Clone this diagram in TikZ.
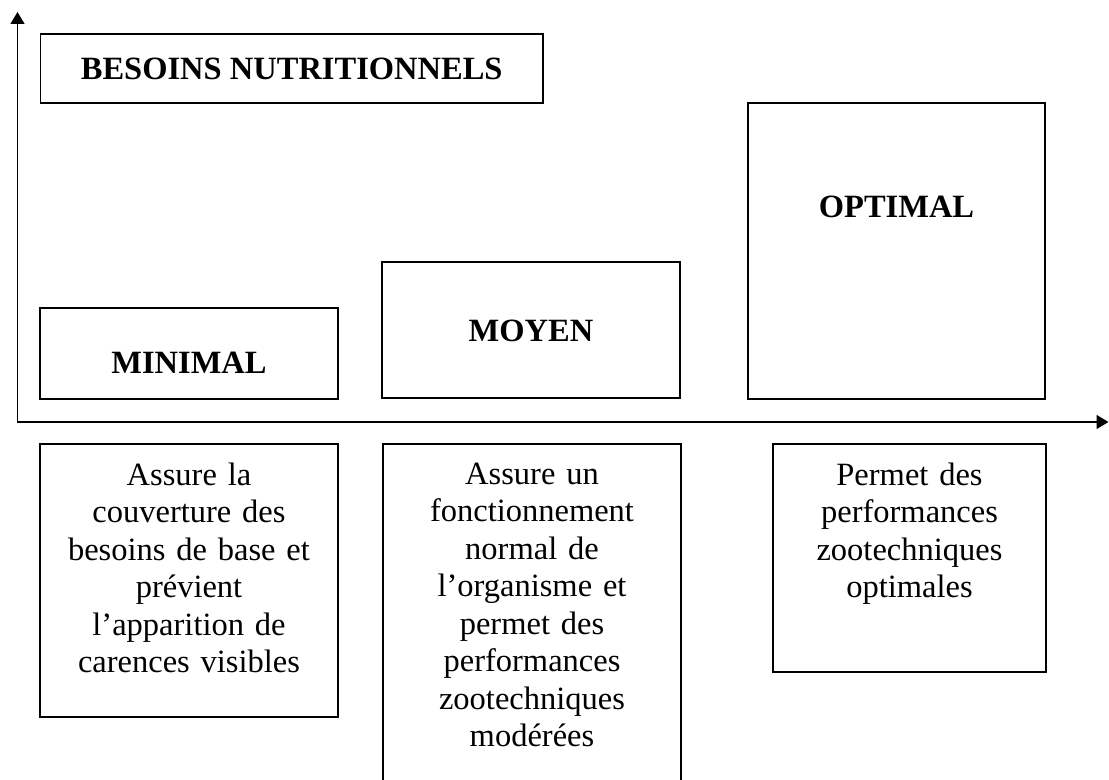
\documentclass[tikz,border=0pt]{standalone}
\usepackage{fontspec}
\setmainfont{Liberation Serif}
\usetikzlibrary{arrows.meta,positioning}

\begin{document}
\begin{tikzpicture}[
  x=0.5pt, y=-0.5pt,
  axis/.style={line width=0.75pt, {Triangle[length=6pt,width=7pt]}-{Triangle[length=6pt,width=7pt]}},
  frame/.style={draw, line width=0.7pt, inner sep=0pt, minimum width=149pt},
  level/.style={font=\fontsize{16.25}{18.75}\selectfont\bfseries, inner sep=0pt},
  note/.style={font=\fontsize{16.25}{18.75}\selectfont, text width=132pt, align=center, inner sep=0pt}
]
  \useasboundingbox (0,0) rectangle (1109,780);

  % axes
  \coordinate (origin) at (17.5,422);
  \coordinate (ytip) at (17.5,12);
  \coordinate (xtip) at (1108.5,422);
  \draw[axis] (ytip) -- (origin) -- (xtip);

  \node[frame, level, minimum width=251.25pt, minimum height=34.5pt] (title) at (291.75,68.5) {BESOINS NUTRITIONNELS};

  % upper boxes
  \node[frame, minimum height=45.5pt] (minimal) at (189,353.5) {};
  \node[frame, minimum height=68pt] (moyen) at (531,330) {};
  \node[frame, minimum width=148.5pt, minimum height=148pt] (optimal) at (896.5,251) {};

  \node[level, below=22pt of minimal.north] (minimal-txt) {MINIMAL};
  \node[level, below=29pt of moyen.north] (moyen-txt) {MOYEN};
  \node[level, below=46.75pt of optimal.north] (optimal-txt) {OPTIMAL};

  % lower boxes
  \node[frame, minimum height=136.5pt] (descA) at (189,580.5) {};
  \node[frame, minimum height=168.5pt] (descB) at (532,612.5) {};
  \node[frame, minimum width=136.5pt, minimum height=114pt] (descC) at (909.5,558) {};

  \node[note, below=9.5pt of descA.north] (descA-txt) {Assure la\\couverture des\\besoins de base et\\prévient\\l'apparition de\\carences visibles};
  \node[note, below=9.5pt of descB.north] (descB-txt) {Assure un\\fonctionnement\\normal de\\l'organisme et\\permet des\\performances\\zootechniques\\modérées};
  \node[note, below=9.5pt of descC.north] (descC-txt) {Permet des\\performances\\zootechniques\\optimales};
\end{tikzpicture}
\end{document}
